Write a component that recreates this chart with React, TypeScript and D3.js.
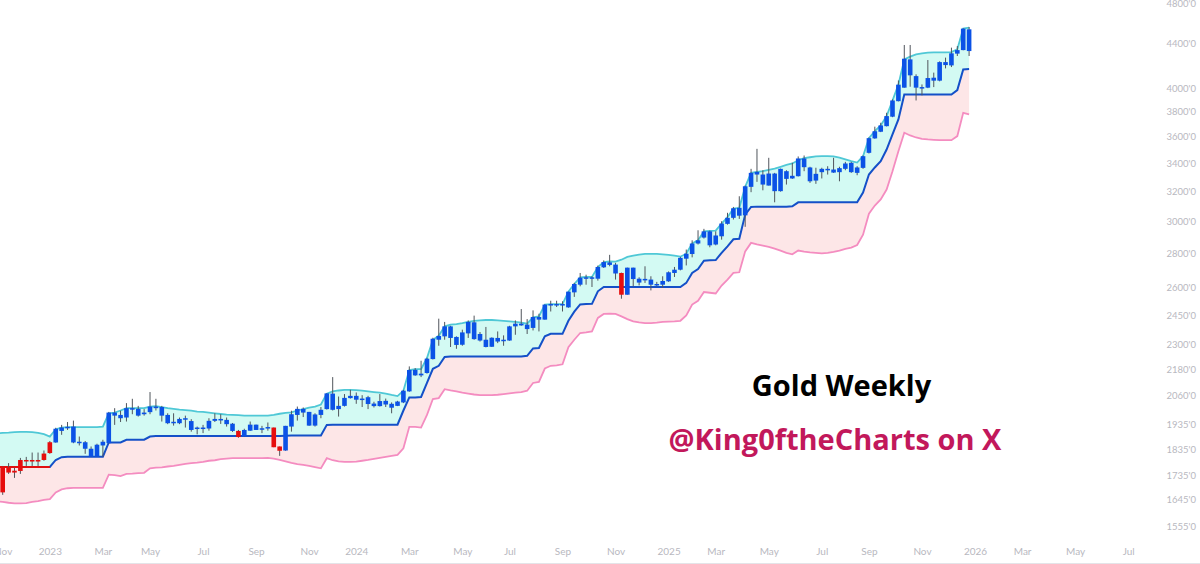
import React, { useEffect, useRef } from 'react';
import * as d3 from 'd3';

// weekly candles, first one is the week of 7 Nov 2022
const opens = [
  1768,1765,1752,1793,1793,1793,1793,1818,1863,1862,
  1909,1922,1862,1859,1837,1806,1806,1850,1859,1973,
  1962,1965,2001,1973,1979,1988,2005,1973,1941,1941,
  1941,1956,1913,1920,1919,1919,1951,1956,1937,1909,
  1909,1886,1910,1913,1916,1920,1923,1846,1830,1927,
  1976,1986,1931,1931,1976,2001,1998,2001,2015,2049,
  2042,2044,2023,2014,2014,2021,2007,2015,2030,2079,
  2152,2152,2163,2229,2324,2341,2333,2298,2299,2356,
  2327,2320,2288,2289,2315,2319,2320,2392,2397,2378,
  2384,2427,2427,2507,2503,2503,2492,2574,2617,2651,
  2653,2651,2717,2731,2681,2684,2561,2649,2629,2644,
  2617,2617,2617,2636,2684,2703,2768,2796,2860,2897,
  2849,2854,2905,2984,3023,3037,3039,3232,3319,3248,
  3241,3202,3202,3288,3291,3307,3372,3271,3276,3336,
  3350,3333,3336,3360,3336,3331,3367,3478,3588,3640,
  3684,3760,3888,4003,4111,4003,3999,4003,4064,4064,
  4203,4200,4308,4341,4332,
];
const closes = [
  1672,1745,1745,1751,1790,1787,1787,1793,1820,1918,
  1923,1926,1927,1865,1863,1837,1853,1865,1986,1986,
  1976,2005,2005,2002,1986,2012,2012,2010,1976,1947,
  1959,1962,1950,1923,1923,1951,1959,1959,1955,1939,
  1884,1913,1935,1935,1920,1925,1843,1829,1930,1979,
  2002,2002,1989,1978,1998,2070,2069,2015,2050,2059,
  2059,2047,2053,2025,2036,2037,2024,2034,2082,2177,
  2178,2160,2231,2329,2343,2392,2392,2338,2361,2415,
  2413,2353,2324,2334,2333,2324,2392,2406,2406,2401,
  2441,2441,2507,2510,2510,2510,2578,2621,2657,2659,
  2659,2719,2748,2746,2733,2561,2715,2715,2651,2650,
  2646,2621,2638,2688,2703,2773,2798,2860,2880,2936,
  2936,2910,2986,3023,3086,3089,3236,3331,3338,3319,
  3326,3326,3360,3343,3310,3436,3436,3370,3324,3360,
  3360,3355,3365,3399,3404,3370,3453,3590,3644,3690,
  3765,3894,4029,4261,4255,4104,4008,4087,4090,4230,
  4230,4311,4341,4547,4540,
];
const highs = [
  1770,1781,1763,1801,1805,1822,1822,1830,1868,1922,
  1934,1946,1952,1886,1868,1846,1857,1873,1989,2005,
  1994,2027,2046,2015,2001,2076,2046,2015,1983,1983,
  1965,1973,1958,1927,1934,1962,1983,1979,1965,1942,
  1913,1918,1948,1935,1930,1944,1923,1846,1930,1994,
  2012,2008,1989,1983,2010,2071,2144,2056,2067,2086,
  2074,2062,2059,2033,2067,2047,2030,2037,2086,2194,
  2186,2221,2235,2334,2432,2415,2395,2341,2375,2423,
  2448,2363,2389,2336,2366,2346,2395,2423,2483,2430,
  2476,2458,2508,2528,2528,2525,2578,2627,2684,2674,
  2665,2727,2758,2791,2743,2686,2715,2715,2659,2723,
  2665,2633,2665,2693,2719,2779,2823,2880,2943,2952,
  2941,2936,3001,3056,3095,3167,3241,3360,3508,3350,
  3441,3331,3362,3350,3404,3451,3458,3375,3368,3368,
  3379,3441,3375,3411,3411,3379,3458,3595,3680,3711,
  3792,3903,4066,4389,4389,4120,4031,4249,4135,4237,
  4271,4364,4379,4550,4563,
];
const lows = [
  1663,1740,1725,1740,1770,1770,1770,1790,1817,1861,
  1893,1913,1859,1850,1817,1806,1806,1806,1857,1934,
  1946,1948,1979,1969,1973,1979,1995,1948,1937,1931,
  1937,1923,1906,1895,1900,1910,1946,1938,1927,1905,
  1881,1884,1909,1913,1900,1910,1843,1809,1829,1906,
  1952,1967,1930,1927,1962,1999,1995,1969,2012,2047,
  2024,2010,2001,2008,2012,2010,1983,2014,2027,2077,
  2150,2144,2160,2227,2294,2324,2288,2279,2294,2333,
  2324,2315,2286,2288,2307,2294,2319,2349,2395,2353,
  2371,2366,2427,2470,2494,2470,2490,2549,2608,2617,
  2604,2640,2713,2723,2646,2539,2561,2608,2613,2627,
  2585,2608,2599,2633,2661,2699,2728,2776,2854,2891,
  2837,2849,2884,2979,3012,3016,2965,3195,3267,3208,
  3241,3126,3199,3248,3288,3305,3343,3260,3253,3291,
  3319,3331,3271,3350,3331,3314,3360,3473,3585,3637,
  3682,3756,3886,4003,4011,3894,3937,3999,4008,4058,
  4173,4185,4286,4339,4286,
];

// channel lines start one week earlier, the week of 31 Oct 2022
const upperBand = [
  1899,1901,1902,1904,1905,1905,1904,1901,1896,1886,
  1916,1923,1925,1925,1925,1925,1925,1925,1927,1983,
  1986,1995,2005,2005,2005,2005,2012,2014,2010,2005,
  2002,1999,1997,1994,1990,1989,1986,1983,1980,1977,
  1976,1975,1973,1973,1973,1973,1973,1976,1981,1985,
  1987,1995,2001,2007,2012,2021,2069,2079,2083,2086,
  2086,2085,2082,2079,2076,2073,2069,2063,2058,2082,
  2177,2181,2181,2234,2324,2344,2392,2401,2404,2409,
  2415,2420,2423,2425,2425,2423,2421,2418,2415,2411,
  2406,2439,2444,2507,2510,2510,2510,2578,2621,2659,
  2661,2661,2719,2748,2752,2750,2762,2779,2786,2792,
  2797,2797,2797,2794,2791,2786,2780,2798,2860,2880,
  2936,2939,2941,2986,3027,3084,3089,3232,3331,3338,
  3343,3353,3362,3375,3389,3399,3423,3438,3445,3451,
  3453,3453,3451,3443,3430,3416,3406,3453,3590,3644,
  3690,3765,3894,4029,4255,4280,4301,4311,4317,4320,
  4320,4320,4322,4348,4547,4557,
];
const stopLine = [
  1766,1766,1766,1766,1766,1766,1766,1766,1766,1766,
  1793,1804,1806,1806,1806,1806,1806,1806,1806,1862,
  1862,1862,1873,1873,1873,1873,1886,1888,1888,1888,
  1888,1888,1888,1888,1888,1888,1888,1888,1888,1888,
  1888,1888,1888,1888,1888,1888,1888,1888,1888,1889,
  1890,1890,1890,1890,1890,1890,1934,1935,1935,1935,
  1935,1935,1935,1935,1935,1935,1935,1935,1935,1995,
  2052,2052,2054,2117,2183,2197,2239,2242,2242,2242,
  2242,2242,2242,2242,2242,2242,2242,2242,2242,2242,
  2245,2281,2283,2341,2354,2354,2354,2421,2469,2508,
  2510,2511,2580,2604,2604,2604,2604,2604,2604,2604,
  2604,2604,2604,2604,2604,2604,2604,2627,2684,2707,
  2756,2758,2760,2803,2843,2886,2889,3044,3095,3097,
  3097,3097,3097,3097,3097,3099,3126,3126,3126,3126,
  3126,3126,3126,3126,3126,3126,3126,3192,3319,3370,
  3416,3503,3619,3738,3945,3945,3945,3945,3945,3945,
  3945,3945,3945,3982,4164,4167,
];
const lowerBand = [
  1640,1638,1635,1633,1633,1634,1638,1641,1645,1648,
  1672,1683,1687,1688,1688,1688,1688,1688,1688,1737,
  1735,1732,1740,1741,1743,1744,1761,1764,1765,1768,
  1770,1774,1778,1781,1783,1786,1790,1792,1796,1798,
  1800,1800,1800,1800,1800,1800,1801,1798,1793,1788,
  1782,1777,1774,1770,1766,1761,1800,1792,1788,1786,
  1786,1787,1790,1793,1797,1801,1805,1809,1813,1839,
  1926,1926,1923,1976,2045,2049,2089,2083,2079,2073,
  2069,2065,2062,2062,2062,2064,2067,2070,2073,2076,
  2082,2117,2122,2184,2197,2199,2204,2287,2324,2358,
  2361,2366,2436,2457,2458,2457,2444,2430,2418,2413,
  2409,2409,2411,2415,2417,2418,2421,2449,2507,2528,
  2576,2572,2568,2612,2646,2684,2688,2812,2864,2855,
  2847,2839,2829,2817,2803,2794,2817,2811,2806,2803,
  2800,2803,2809,2817,2827,2835,2851,2915,3050,3104,
  3145,3213,3343,3490,3632,3611,3595,3585,3580,3577,
  3574,3574,3574,3606,3792,3778,
];
// the stop line is red until the trend flips, these weeks counted from the band start
const redStopPoints = 10;

const priceTicks = [4800, 4400, 4000, 3800, 3600, 3400, 3200, 3000, 2800, 2600, 2450, 2300, 2180, 2060, 1935, 1835, 1735, 1645, 1555];
const monthTicks = ['2022-11-07', '2023-01-02', '2023-03-06', '2023-05-01', '2023-07-03', '2023-09-04', '2023-11-06', '2024-01-01', '2024-03-04', '2024-05-06', '2024-07-01', '2024-09-02', '2024-11-04', '2025-01-06', '2025-03-03', '2025-05-05', '2025-07-07', '2025-09-01', '2025-11-03', '2026-01-05', '2026-03-02', '2026-05-04', '2026-07-06'];
const monthLabels = ['Nov', '2023', 'Mar', 'May', 'Jul', 'Sep', 'Nov', '2024', 'Mar', 'May', 'Jul', 'Sep', 'Nov', '2025', 'Mar', 'May', 'Jul', 'Sep', 'Nov', '2026', 'Mar', 'May', 'Jul'];

const W = 1200;
const H = 564;
const bandWeeks = d3.utcMonday.range(new Date(Date.UTC(2022, 9, 31)), new Date(Date.UTC(2026, 0, 5)));
const candleWeeks = bandWeeks.slice(1);

const x = d3.scaleUtc().domain([new Date(Date.UTC(2022, 10, 7)), new Date(Date.UTC(2026, 0, 5))]).range([2.7, 975]);
const y = d3.scaleLog().domain([1555, 4800]).range([526, 3.5]);

const bandLine = (vals: number[]) =>
  d3.line<number>().x((_, i) => x(bandWeeks[i])).y((v) => y(v))(vals) as string;
const bandArea = (top: number[], bottom: number[]) =>
  d3.area<number>().x((_, i) => x(bandWeeks[i])).y0((_, i) => y(bottom[i])).y1((v) => y(v))(top) as string;

export default function App() {
  const xAxisRef = useRef<SVGGElement>(null);
  const yAxisRef = useRef<SVGGElement>(null);

  useEffect(() => {
    const dates = monthTicks.map((d) => new Date(d + 'T00:00:00Z'));
    const bottom = d3.axisBottom(x).tickValues(dates).tickSize(0).tickPadding(0)
      .tickFormat((_, i) => monthLabels[i]);
    const right = d3.axisRight(y).tickValues(priceTicks).tickSize(0).tickPadding(0)
      .tickFormat((d) => `${d}'0`);
    const styleAxis = (g: d3.Selection<SVGGElement, unknown, null, undefined>) => {
      g.select('.domain').remove();
      g.selectAll('text')
        .attr('fill', '#b8b8c0')
        .attr('font-family', 'Lato, "Open Sans", sans-serif');
    };
    const gx = d3.select(xAxisRef.current!);
    gx.call(bottom as any);
    styleAxis(gx);
    gx.selectAll('text').attr('font-size', 10);
    const gy = d3.select(yAxisRef.current!);
    gy.call(right as any);
    styleAxis(gy);
    gy.selectAll('text').attr('font-size', 9.5).attr('text-anchor', 'end').attr('x', 1196 - 1160);
  }, []);

  return (
    <svg width={W} height={H} style={{ position: 'fixed', left: 0, top: 0, background: '#fff' }}>
      <path d={bandArea(upperBand, stopLine)} fill="#d3faf3" />
      <path d={bandArea(stopLine, lowerBand)} fill="#fde6e7" />
      <path d={bandLine(upperBand)} fill="none" stroke="#4fc8d6" strokeWidth={1.8} />
      <path d={bandLine(lowerBand)} fill="none" stroke="#f48cc0" strokeWidth={1.8} />
      <path d={bandLine(stopLine)} fill="none" stroke="#1450c8" strokeWidth={2} />
      <path d={bandLine(stopLine.slice(0, redStopPoints))} fill="none" stroke="#e01010" strokeWidth={2} />

      {candleWeeks.map((week, i) => {
        const cx = x(week);
        const color = closes[i] < opens[i] ? '#e60d0d' : '#0b52e6';
        const bodyTop = y(Math.max(opens[i], closes[i]));
        const bodyBottom = y(Math.min(opens[i], closes[i]));
        return (
          <g key={i}>
            <line x1={cx} x2={cx} y1={y(highs[i])} y2={y(lows[i])} stroke="#50555c" strokeWidth={1} />
            <rect x={cx - 2.3} width={4.6} y={bodyTop} height={Math.max(bodyBottom - bodyTop, 1.5)} fill={color} />
          </g>
        );
      })}

      <g ref={yAxisRef} transform="translate(1160,0)" />
      <g ref={xAxisRef} transform="translate(0,548)" />
      <line x1={0} x2={W} y1={563.5} y2={563.5} stroke="#e4e4e8" strokeWidth={1} />

      <text x={841.5} y={396} textAnchor="middle" fontFamily='"Open Sans", Lato, sans-serif' fontWeight={700} fontSize={29} fill="#000">Gold Weekly</text>
      <text x={835} y={450} textAnchor="middle" fontFamily='"Open Sans", Lato, sans-serif' fontWeight={700} fontSize={29} fill="#c2185b">@King0ftheCharts on X</text>
    </svg>
  );
}
